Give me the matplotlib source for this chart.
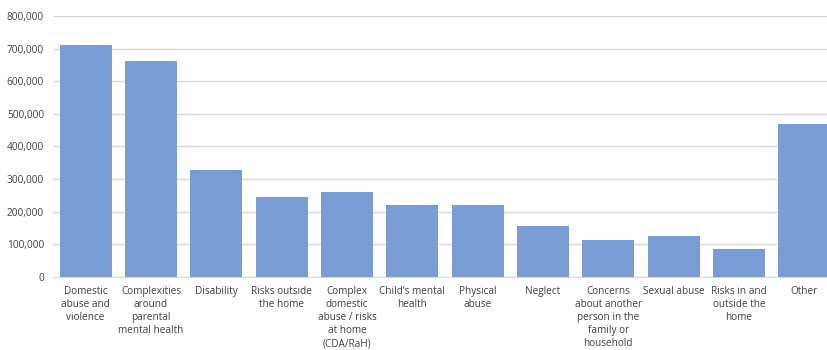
import matplotlib
matplotlib.use("Agg")
import matplotlib.pyplot as plt
from matplotlib.ticker import FuncFormatter, MultipleLocator

categories = [
    "Domestic\nabuse and\nviolence",
    "Complexities\naround\nparental\nmental health",
    "Disability",
    "Risks outside\nthe home",
    "Complex\ndomestic\nabuse / risks\nat home\n(CDA/RaH)",
    "Child\u2019s mental\nhealth",
    "Physical\nabuse",
    "Neglect",
    "Concerns\nabout another\nperson in the\nfamily or\nhousehold",
    "Sexual abuse",
    "Risks in and\noutside the\nhome",
    "Other",
]
values = [710000, 662000, 327000, 245000, 260000, 220000, 219000, 156000,
          113000, 125000, 84000, 469000]

plt.rcParams['font.family'] = ['Open Sans', 'DejaVu Sans']

fig = plt.figure(figsize=(8.28, 3.5), dpi=100)
W, H = 828, 350
x0, x1 = 53, 837
y0, y1 = 276.7, 16
ax = fig.add_axes([x0 / W, (H - y0) / H, (x1 - x0) / W, (y0 - y1) / H])

ax.bar(range(len(values)), values, width=0.8, color="#7A9CD5", zorder=3)
ax.set_xlim(-0.5, len(values) - 0.5)
ax.set_ylim(0, 800000)
ax.yaxis.set_major_locator(MultipleLocator(100000))
ax.yaxis.set_major_formatter(FuncFormatter(lambda v, p: f"{int(v):,}"))
ax.grid(axis="y", color="#D9D9D9", linewidth=1, zorder=0)
for s in ["top", "right", "left"]:
    ax.spines[s].set_visible(False)
ax.spines["bottom"].set_color("#D9D9D9")
ax.set_xticks(range(len(values)))
ax.set_xticklabels(categories, fontsize=7.2, color="#404040", linespacing=1.24, ha="center", va="top")
ax.tick_params(axis="x", length=0, pad=7)
ax.tick_params(axis="y", length=0, pad=6.5, labelsize=7.3, labelcolor="#404040")

fig.savefig("out.png", dpi=100)
